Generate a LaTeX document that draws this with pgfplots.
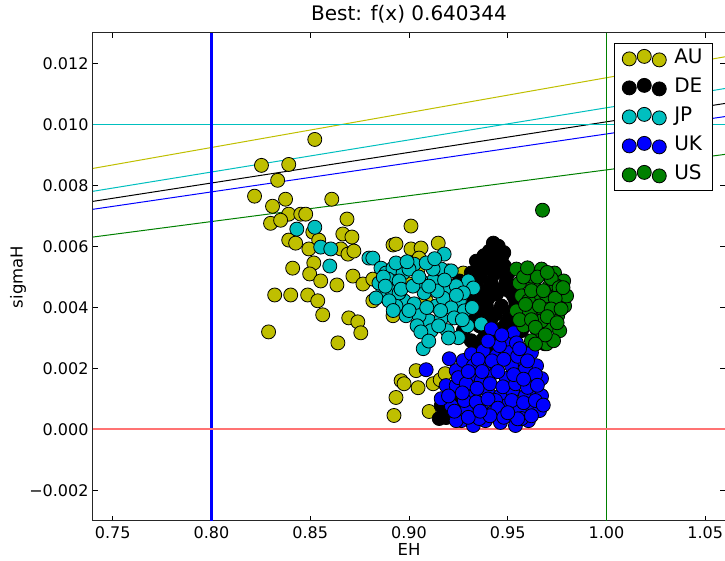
\documentclass[border=0pt]{standalone}
\usepackage{pgfplots}
\pgfplotsset{compat=1.18}
\usepackage{fontspec}
\setmainfont{DejaVu Sans}
\definecolor{mplY}{rgb}{0.75,0.75,0}
\definecolor{mplC}{rgb}{0,0.75,0.75}
\definecolor{mplG}{rgb}{0,0.5,0}
\definecolor{mplB}{rgb}{0,0,1}
\definecolor{mplR}{rgb}{1,0.45,0.45}

\begin{document}
\begin{tikzpicture}
\begin{axis}[
  name=ax,
  scale only axis,
  width=632pt, height=488pt,
  xmin=0.74, xmax=1.06, ymin=-0.003, ymax=0.013,
  scaled x ticks=false, scaled y ticks=false,
  xtick={0.75,0.80,0.85,0.90,0.95,1.00,1.05},
  xticklabels={0.75,0.80,0.85,0.90,0.95,1.00,1.05},
  ytick={-0.002,0,0.002,0.004,0.006,0.008,0.010,0.012},
  yticklabels={−0.002,0.000,0.002,0.004,0.006,0.008,0.010,0.012},
  tick align=inside,
  major tick length=5pt,
  tick style={black, line width=0.6pt},
  axis line style={line width=1pt, black!85},
  ticklabel style={font=\fontsize{16}{19}\selectfont},
  xticklabel style={yshift=-2pt},
  yticklabel style={xshift=-1pt},
  title={Best: f(x) 0.640344},
  title style={font=\fontsize{20}{24}\selectfont, at={(axis description cs:0.5,1)}, anchor=center, yshift=13pt},
  xlabel={EH},
  ylabel={sigmaH},
  label style={font=\fontsize{16.5}{20}\selectfont},
  xlabel style={at={(axis description cs:0.5,0)}, anchor=center, yshift=-28pt},
  ylabel style={at={(axis description cs:-0.1187,0.5)}, anchor=center, rotate=0},
  legend cell align=left,
  legend style={at={(axis description cs:1,1)}, anchor=north east, xshift=-12pt, yshift=-10pt,
    draw=black, line width=0.8pt, fill=white,
    font=\fontsize{20}{24}\selectfont,
    row sep=10pt, column sep=6pt, inner xsep=8pt, inner ysep=6pt,
    nodes={inner ysep=0pt, text height=14.5pt, text depth=4.5pt}},
  legend image code/.code={\draw[#1] plot coordinates {(0pt,0pt) (15pt,2.5pt) (30pt,-1pt)};},
]
% reference lines
\addplot[forget plot, mplY, line width=1pt] coordinates {(0.74,0.00856) (1.06,0.01222)};
\addplot[forget plot, mplC, line width=1pt] coordinates {(0.74,0.00781) (1.06,0.01118)};
\addplot[forget plot, black, line width=1pt] coordinates {(0.74,0.00748) (1.06,0.01069)};
\addplot[forget plot, mplB, line width=1pt] coordinates {(0.74,0.00722) (1.06,0.01026)};
\addplot[forget plot, mplG, line width=1pt] coordinates {(0.74,0.00631) (1.06,0.00902)};
\addplot[forget plot, mplC, line width=1.2pt] coordinates {(0.74,0.010) (1.06,0.010)};
\addplot[forget plot, mplG, line width=1.2pt] coordinates {(1.0,-0.003) (1.0,0.013)};
\addplot[forget plot, blue, line width=2.3pt] coordinates {(0.8,-0.003) (0.8,0.013)};
\addplot[forget plot, mplR, line width=2pt] coordinates {(0.74,0) (1.06,0)};

% AU
\addplot[only marks, mark=*, mark size=7pt, mark options={draw=black, fill=mplY, line width=0.8pt}] table {
x y
0.8523 0.00951
0.8253 0.00866
0.8391 0.00869
0.8335 0.00817
0.8218 0.00765
0.8309 0.00732
0.8375 0.00755
0.8609 0.00755
0.8391 0.00706
0.8452 0.00706
0.8477 0.00706
0.8299 0.00676
0.8350 0.00686
0.8513 0.00647
0.8686 0.00690
0.8543 0.00621
0.8391 0.00621
0.8426 0.00611
0.8493 0.00592
0.8665 0.00641
0.8711 0.00631
0.8655 0.00592
0.8691 0.00575
0.8721 0.00585
0.8919 0.00605
0.8518 0.00546
0.8411 0.00529
0.8497 0.00510
0.8553 0.00487
0.8635 0.00474
0.8716 0.00503
0.8320 0.00441
0.8401 0.00441
0.8487 0.00441
0.8538 0.00422
0.8563 0.00376
0.8695 0.00366
0.8741 0.00353
0.8756 0.00317
0.8289 0.00320
0.8640 0.00284
0.8767 0.00477
0.8817 0.00422
0.8919 0.00373
0.9010 0.00667
0.8934 0.00608
0.9010 0.00592
0.9061 0.00595
0.9148 0.00611
0.9051 0.00562
0.8960 0.00160
0.8975 0.00150
0.9036 0.00193
0.9046 0.00137
0.9122 0.00150
0.9158 0.00163
0.9183 0.00183
0.8934 0.00105
0.8924 0.00046
0.9102 0.00059
0.9377 0.00052
0.9316 0.00363
0.9402 0.00373
0.9046 0.00526
0.9199 0.00520
0.9000 0.00477
0.9275 0.00513
0.8817 0.00493
0.9087 0.00422
0.9239 0.00405
};
\addlegendentry{AU}

% DE
\addplot[only marks, mark=*, mark size=7pt, mark options={draw=black, fill=black, line width=0.8pt}] table {
x y
0.9427 0.00611
0.9452 0.00601
0.9407 0.00585
0.9468 0.00562
0.9432 0.00546
0.9483 0.00536
0.9376 0.00529
0.9315 0.00513
0.9112 0.00542
0.9346 0.00487
0.9417 0.00480
0.9493 0.00487
0.9295 0.00454
0.9356 0.00438
0.9443 0.00444
0.9508 0.00454
0.9392 0.00405
0.9468 0.00405
0.9315 0.00395
0.9529 0.00389
0.9417 0.00363
0.9493 0.00350
0.9356 0.00340
0.9443 0.00307
0.9519 0.00291
0.9366 0.00275
0.9351 0.00242
0.9290 0.00209
0.9224 0.00137
0.9188 0.00039
0.9153 0.00036
0.9204 0.00056
0.9239 0.00095
0.9570 0.00324
0.9544 0.00258
0.9595 0.00252
0.9630 0.00275
0.9687 0.00281
0.9275 0.00324
0.9255 0.00487
0.9341 0.00552
0.9392 0.00454
0.9458 0.00520
0.9529 0.00438
0.9305 0.00363
0.9407 0.00324
0.9468 0.00297
0.9315 0.00291
0.9255 0.00176
0.9163 0.00078
0.9380 0.00570
0.9440 0.00580
0.9360 0.00500
0.9430 0.00510
0.9500 0.00510
0.9330 0.00470
0.9400 0.00430
0.9470 0.00460
0.9540 0.00420
0.9330 0.00420
0.9360 0.00380
0.9440 0.00380
0.9510 0.00370
0.9400 0.00340
0.9470 0.00330
0.9540 0.00330
0.9380 0.00300
0.9420 0.00280
0.9300 0.00450
0.9270 0.00400
0.9390 0.00260
0.9450 0.00560
0.9480 0.00580
};
\addlegendentry{DE}

% JP
\addplot[only marks, mark=*, mark size=7pt, mark options={draw=black, fill=mplC, line width=0.8pt}] table {
x y
0.8432 0.00657
0.8523 0.00663
0.8553 0.00598
0.8604 0.00592
0.8599 0.00536
0.8797 0.00562
0.8817 0.00562
0.8858 0.00529
0.8884 0.00513
0.8919 0.00529
0.8970 0.00513
0.9026 0.00542
0.9178 0.00575
0.9163 0.00526
0.9122 0.00487
0.9199 0.00454
0.9255 0.00422
0.8868 0.00454
0.8833 0.00431
0.8909 0.00461
0.8975 0.00422
0.9026 0.00412
0.9077 0.00448
0.9138 0.00405
0.9173 0.00431
0.9214 0.00399
0.9280 0.00389
0.9102 0.00356
0.8985 0.00373
0.9051 0.00373
0.9163 0.00363
0.9229 0.00366
0.9300 0.00487
0.9326 0.00464
0.8894 0.00493
0.8950 0.00487
0.9112 0.00324
0.9250 0.00301
0.9072 0.00265
0.9366 0.00346
0.8934 0.00405
0.9061 0.00487
0.9239 0.00471
0.9122 0.00526
0.8848 0.00480
0.8934 0.00546
0.9000 0.00526
0.9087 0.00546
0.9214 0.00520
0.9275 0.00448
0.9143 0.00454
0.8950 0.00448
0.9041 0.00340
0.9194 0.00324
0.9296 0.00340
0.8899 0.00422
0.8870 0.00500
0.8960 0.00460
0.9020 0.00470
0.9100 0.00470
0.9180 0.00490
0.9240 0.00440
0.9090 0.00400
0.9160 0.00390
0.9000 0.00390
0.8920 0.00390
0.9060 0.00320
0.9150 0.00340
0.9200 0.00300
0.9270 0.00360
0.8990 0.00550
0.9130 0.00560
0.8880 0.00470
0.9050 0.00500
0.9320 0.00400
0.9100 0.00290
};
\addlegendentry{JP}

% UK
\addplot[only marks, mark=*, mark size=7pt, mark options={draw=black, fill=mplB, line width=0.8pt}] table {
x y
0.9087 0.00196
0.9417 0.00330
0.9529 0.00317
0.9493 0.00281
0.9204 0.00232
0.9239 0.00193
0.9275 0.00226
0.9316 0.00248
0.9376 0.00258
0.9443 0.00242
0.9508 0.00252
0.9570 0.00226
0.9620 0.00252
0.9646 0.00209
0.9305 0.00176
0.9366 0.00160
0.9427 0.00186
0.9493 0.00167
0.9559 0.00176
0.9610 0.00160
0.9255 0.00127
0.9326 0.00111
0.9397 0.00127
0.9463 0.00111
0.9524 0.00127
0.9590 0.00111
0.9650 0.00121
0.9214 0.00078
0.9290 0.00062
0.9366 0.00078
0.9427 0.00056
0.9493 0.00078
0.9559 0.00062
0.9620 0.00078
0.9265 0.00029
0.9326 0.00013
0.9463 0.00023
0.9539 0.00013
0.9605 0.00029
0.9661 0.00062
0.9188 0.00144
0.9163 0.00101
0.9382 0.00209
0.9671 0.00167
0.9239 0.00144
0.9326 0.00209
0.9458 0.00275
0.9544 0.00284
0.9590 0.00199
0.9387 0.00029
0.9671 0.00111
0.9239 0.00029
0.9570 0.00036
0.9356 0.00036
0.9438 0.00095
0.9519 0.00209
0.9250 0.00170
0.9290 0.00150
0.9345 0.00135
0.9410 0.00150
0.9475 0.00140
0.9540 0.00150
0.9600 0.00138
0.9640 0.00180
0.9280 0.00095
0.9340 0.00090
0.9400 0.00100
0.9450 0.00070
0.9520 0.00095
0.9580 0.00088
0.9640 0.00095
0.9300 0.00040
0.9410 0.00045
0.9480 0.00040
0.9550 0.00035
0.9620 0.00045
0.9350 0.00230
0.9420 0.00225
0.9480 0.00230
0.9550 0.00240
0.9600 0.00225
0.9400 0.00290
0.9470 0.00310
0.9560 0.00265
0.9230 0.00060
0.9200 0.00110
0.9300 0.00190
0.9370 0.00190
0.9450 0.00190
0.9530 0.00180
0.9580 0.00165
0.9500 0.00055
0.9360 0.00060
0.9270 0.00120
0.9650 0.00145
0.9680 0.00080
};
\addlegendentry{UK}

% US
\addplot[only marks, mark=*, mark size=7pt, mark options={draw=black, fill=mplG, line width=0.8pt}] table {
x y
0.9676 0.00719
0.9595 0.00520
0.9671 0.00526
0.9737 0.00513
0.9783 0.00487
0.9559 0.00480
0.9630 0.00480
0.9712 0.00471
0.9773 0.00448
0.9570 0.00438
0.9646 0.00428
0.9722 0.00422
0.9788 0.00405
0.9544 0.00389
0.9610 0.00382
0.9681 0.00389
0.9753 0.00373
0.9580 0.00340
0.9656 0.00317
0.9712 0.00340
0.9697 0.00281
0.9620 0.00291
0.9763 0.00324
0.9544 0.00526
0.9620 0.00503
0.9697 0.00438
0.9605 0.00422
0.9747 0.00471
0.9798 0.00438
0.9671 0.00356
0.9732 0.00291
0.9580 0.00500
0.9650 0.00500
0.9720 0.00495
0.9760 0.00465
0.9620 0.00455
0.9680 0.00455
0.9740 0.00430
0.9590 0.00410
0.9660 0.00405
0.9720 0.00395
0.9770 0.00395
0.9560 0.00360
0.9620 0.00360
0.9700 0.00370
0.9750 0.00350
0.9640 0.00335
0.9690 0.00310
0.9780 0.00465
0.9600 0.00530
0.9700 0.00515
0.9640 0.00280
};
\addlegendentry{US}
\end{axis}
\pgfresetboundingbox
\useasboundingbox ([xshift=-93pt,yshift=-40pt]ax.south west) rectangle ([yshift=33pt]ax.north east);
\end{tikzpicture}
\end{document}
